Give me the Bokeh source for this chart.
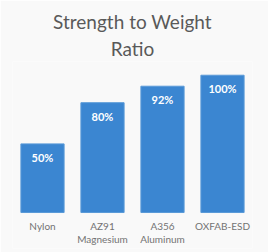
from bokeh.plotting import figure
from bokeh.models import ColumnDataSource, Title, FactorRange, Range1d
from bokeh.embed import file_html
from bokeh.resources import INLINE
from bokeh.core.properties import value

categories = ["Nylon", "AZ91 Magnesium", "A356 Aluminum", "OXFAB-ESD"]
label_line1 = ["Nylon", "AZ91", "A356", "OXFAB-ESD"]
label_line2 = ["", "Magnesium", "Aluminum", ""]
ratios = [50, 80, 92, 100]
value_labels = ["50%", "80%", "92%", "100%"]

src = ColumnDataSource(dict(cat=categories, val=ratios, lab=value_labels,
                            l1=label_line1, l2=label_line2,
                            y1=[-9.5] * 4, y2=[-19.0] * 4))

p = figure(width=268, height=252,
           x_range=FactorRange(factors=categories, range_padding=0),
           y_range=Range1d(-26.2, 110),
           output_backend="svg", toolbar_location=None, title=None,
           min_border_left=12, min_border_right=16,
           min_border_top=61, min_border_bottom=4)

p.background_fill_color = "#f9f9f9"
p.border_fill_color = "#f9f9f9"
p.outline_line_color = None

p.vbar(x="cat", top="val", width=0.72, source=src,
       fill_color="#3b86d1", line_color="#5a9ad8", line_width=1)

p.text(x="cat", y="val", text="lab", source=src,
       text_align="center", text_baseline="top", y_offset=7,
       text_color="white", text_font=value("Lato"),
       text_font_style="bold", text_font_size="11px")

for col, ycol in (("l1", "y1"), ("l2", "y2")):
    p.text(x="cat", y=ycol, text=col, source=src,
           text_align="center", text_baseline="middle",
           text_font=value("Lato"), text_font_size="10px",
           text_color="#737373")

p.xaxis.visible = False
p.yaxis.visible = False
p.xgrid.visible = False
p.ygrid.visible = False

t2 = Title(text="Ratio", align="center", text_font="Lato",
           text_font_size="19px", text_font_style="normal",
           text_color="#595959", standoff=4)
t1 = Title(text="Strength to Weight", align="center", text_font="Lato",
           text_font_size="19px", text_font_style="normal",
           text_color="#595959", standoff=0)
p.add_layout(t2, "above")
p.add_layout(t1, "above")

open("out.html", "w").write(file_html(p, INLINE))
